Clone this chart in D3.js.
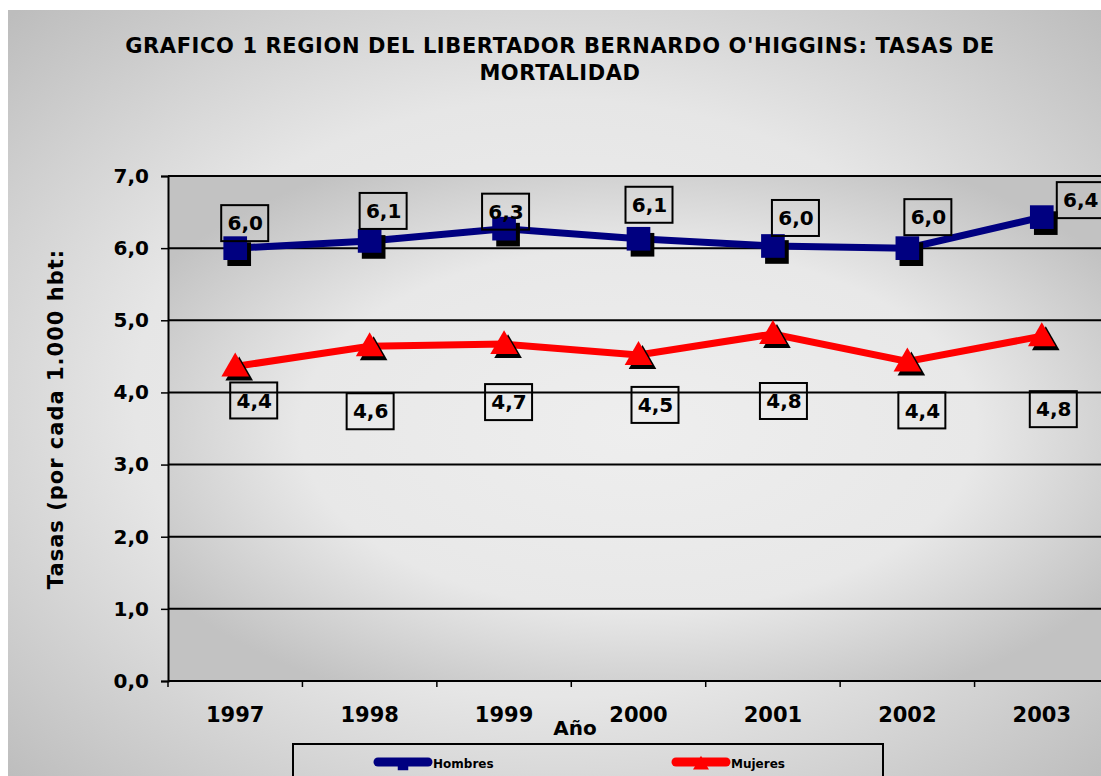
<!DOCTYPE html>
<html>
<head>
<meta charset="utf-8">
<script src="https://cdn.jsdelivr.net/npm/d3@7"></script>
<style>
  body { margin: 0; background: #fff; }
  svg { display: block; }
  text { font-family: "DejaVu Sans", Verdana, sans-serif; font-weight: bold; fill: #000; }
</style>
</head>
<body>
<svg id="chart" width="1101" height="776"></svg>
<script>
const years = ["1997", "1998", "1999", "2000", "2001", "2002", "2003"];
const hombres = [6.0, 6.1, 6.27, 6.13, 6.03, 6.0, 6.43];
const mujeres = [4.36, 4.64, 4.67, 4.52, 4.81, 4.43, 4.78];
const yTicks = [0, 1, 2, 3, 4, 5, 6, 7];
const titleLines = ["GRAFICO 1 REGION DEL LIBERTADOR BERNARDO O'HIGGINS: TASAS DE", "MORTALIDAD"];

const width = 1101;
const height = 776;
const fmt = v => d3.format(".1f")(v).replace(".", ",");

const svg = d3.select("#chart");
const defs = svg.append("defs");

// outer background gradient (grey edges, light middle)
const bg = defs.append("radialGradient").attr("id", "bgGrad")
    .attr("cx", "50%").attr("cy", "50%").attr("r", "70%");
bg.append("stop").attr("offset", "0%").attr("stop-color", "#f0f0f0");
bg.append("stop").attr("offset", "55%").attr("stop-color", "#e6e6e6");
bg.append("stop").attr("offset", "100%").attr("stop-color", "#bdbdbd");

const plotGrad = defs.append("radialGradient").attr("id", "plotGrad")
    .attr("cx", "50%").attr("cy", "50%").attr("r", "60%");
plotGrad.append("stop").attr("offset", "0%").attr("stop-color", "#eeeeee");
plotGrad.append("stop").attr("offset", "60%").attr("stop-color", "#e8e8e8");
plotGrad.append("stop").attr("offset", "100%").attr("stop-color", "#c2c2c2");

svg.append("rect").attr("x", 8).attr("y", 10).attr("width", width).attr("height", height)
    .attr("fill", "url(#bgGrad)");

const plotL = 168, plotR = 1109, plotT = 176, plotB = 681;

const x = d3.scaleBand().domain(years).range([plotL, plotR]);
const cx = d => x(d) + x.bandwidth() / 2;
const y = d3.scaleLinear().domain([0, 7]).range([plotB, plotT]);

svg.append("rect").attr("x", plotL).attr("y", plotT)
    .attr("width", plotR - plotL).attr("height", plotB - plotT)
    .attr("fill", "url(#plotGrad)");

// title
svg.append("g").selectAll("text").data(titleLines).enter().append("text")
    .attr("x", 560).attr("y", (d, i) => 53 + i * 27)
    .attr("text-anchor", "middle").attr("font-size", 21)
    .attr("letter-spacing", 0.6)
    .text(d => d);

// gridlines
svg.append("g").selectAll("line").data(yTicks).enter().append("line")
    .attr("x1", plotL).attr("x2", plotR)
    .attr("y1", d => y(d)).attr("y2", d => y(d))
    .attr("stroke", "#000").attr("stroke-width", 2);

// y axis
const yAxis = svg.append("g").attr("transform", `translate(${plotL},0)`)
    .call(d3.axisLeft(y).tickValues(yTicks).tickFormat(fmt).tickSize(7).tickPadding(12));
yAxis.select(".domain").attr("stroke", "#000").attr("stroke-width", 2);
yAxis.selectAll(".tick line").attr("stroke", "#000").attr("stroke-width", 1.5);
yAxis.selectAll(".tick text").attr("font-size", 20).attr("font-family", null).attr("dy", "0.32em");

// x axis
const xAxis = svg.append("g").attr("transform", `translate(0,${plotB})`)
    .call(d3.axisBottom(x).tickSize(0).tickPadding(26));
xAxis.select(".domain").remove();
xAxis.selectAll(".tick text").attr("font-size", 21).attr("font-family", null);
svg.append("g").selectAll("line").data(years).enter().append("line")
    .attr("x1", d => x(d)).attr("x2", d => x(d))
    .attr("y1", plotB).attr("y2", plotB + 6)
    .attr("stroke", "#000").attr("stroke-width", 1.5);

svg.append("text").attr("x", 575).attr("y", 735).attr("text-anchor", "middle")
    .attr("font-size", 20).text("Año");

svg.append("text")
    .attr("transform", "translate(63,419) rotate(-90)")
    .attr("text-anchor", "middle").attr("font-size", 21)
    .attr("letter-spacing", 1)
    .text("Tasas (por cada 1.000 hbt:");

// series
const series = [
    { name: "Hombres", values: hombres, color: "#000080", shape: d3.symbolSquare, size: 560,
      labelDx: [10, 14, 2, 11, 23, 21, 39], labelDy: [-25, -30, -17, -34, -28, -31, -17] },
    { name: "Mujeres", values: mujeres, color: "#ff0000", shape: d3.symbolTriangle, size: 330,
      labelDx: [19, 1, 5, 17, 11, 15, 12], labelDy: [34, 65, 58, 50, 67, 49, 73] }
];

const line = d3.line().x((d, i) => cx(years[i])).y(d => y(d));

series.forEach(s => {
    const g = svg.append("g");
    g.append("path").datum(s.values)
        .attr("d", line).attr("fill", "none")
        .attr("stroke", s.color).attr("stroke-width", 7);

    const sym = d3.symbol().type(s.shape).size(s.size);
    // shadow
    g.selectAll("path.shadow").data(s.values).enter().append("path")
        .attr("class", "shadow")
        .attr("d", sym)
        .attr("transform", (d, i) => `translate(${cx(years[i]) + 4},${y(d) + 6})`)
        .attr("fill", "#000");
    g.selectAll("path.marker").data(s.values).enter().append("path")
        .attr("class", "marker")
        .attr("d", sym)
        .attr("transform", (d, i) => `translate(${cx(years[i])},${y(d) + (s.shape === d3.symbolTriangle ? 2 : 0)})`)
        .attr("fill", s.color);

    const lab = g.selectAll("g.lab").data(s.values).enter().append("g")
        .attr("class", "lab")
        .attr("transform", (d, i) => `translate(${cx(years[i]) + s.labelDx[i]},${y(d) + s.labelDy[i]})`);
    lab.append("rect").attr("x", -24).attr("y", -18).attr("width", 47).attr("height", 36)
        .attr("fill", "none").attr("stroke", "#000").attr("stroke-width", 2);
    lab.append("text").attr("text-anchor", "middle").attr("dy", "0.36em")
        .attr("font-size", 20).text(d => fmt(d));
});

// legend
const legend = svg.append("g");
legend.append("rect").attr("x", 293).attr("y", 744).attr("width", 590).attr("height", 40)
    .attr("fill", "none").attr("stroke", "#000").attr("stroke-width", 2);
const legX = [378, 676];
series.forEach((s, i) => {
    const lg = legend.append("g").attr("transform", `translate(${legX[i]},762)`);
    lg.append("line").attr("x1", 0).attr("x2", 50).attr("y1", 0).attr("y2", 0)
        .attr("stroke", s.color).attr("stroke-width", 9).attr("stroke-linecap", "round");
    lg.append("path").attr("d", d3.symbol().type(s.shape).size(110))
        .attr("transform", "translate(25,3)").attr("fill", s.color);
    lg.append("text").attr("x", 55).attr("y", 6).attr("font-size", 12).text(s.name);
});
</script>
</body>
</html>
